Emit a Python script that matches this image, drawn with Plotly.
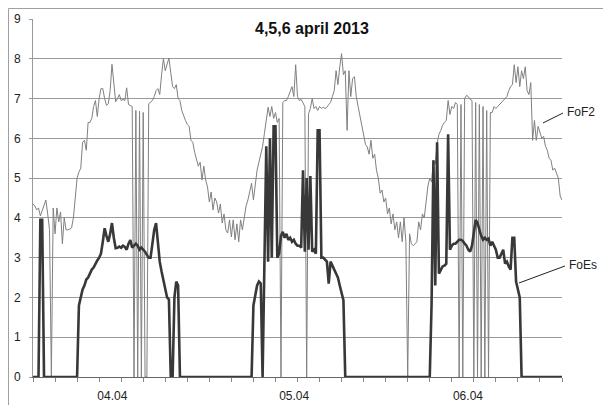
import plotly.graph_objects as go

# Time axis: hours since 00:00 on 04.04.2013, 15-minute sampling (0 .. 72 h)
# FoF2 values (MHz), one row per hour (4 samples each)
fof2 = [
    4.35, 4.3, 4.2, 4.25,     # h0
    4.05, 4.2, 4.3, 4.45,     # h1
    4.1, 3.7, 0, 4.25,        # h2
    3.6, 4.25, 3.9, 4.15,     # h3
    3.35, 4.0, 3.7, 3.7,      # h4
    3.72, 3.75, 4.0, 4.6,     # h5
    5.0, 5.15, 5.25, 5.9,     # h6
    5.95, 5.7, 6.4, 6.4,      # h7
    6.5, 6.8, 6.95, 6.55,     # h8
    7.0, 7.25, 7.25, 7.0,     # h9
    6.83, 6.87, 7.2, 7.86,    # h10
    7.4, 6.92, 7.0, 7.1,      # h11
    6.95, 6.98, 6.95, 7.27,   # h12
    6.85, 6.82, 6.8, 0,       # h13
    6.7, 0, 6.68, 0,          # h14
    6.65, 0, 0, 6.87,         # h15
    6.9, 6.95, 7.05, 7.2,     # h16
    7.25, 7.1, 7.6, 8.0,      # h17
    7.7, 7.9, 8.02, 7.65,     # h18
    7.3, 7.25, 7.35, 7.0,     # h19
    6.95, 6.7, 6.55, 6.45,    # h20
    6.35, 6.3, 5.95, 5.9,     # h21
    5.65, 5.45, 5.3, 5.4,     # h22
    4.95, 5.3, 4.95, 4.78,    # h23
    4.4, 4.65, 4.2, 4.5,      # h24
    4.4, 4.12, 4.35, 3.87,    # h25
    4.1, 3.7, 3.62, 3.95,     # h26
    3.52, 3.95, 3.45, 3.85,   # h27
    3.4, 3.95, 3.7, 4.0,      # h28
    4.3, 4.45, 4.7, 4.87,     # h29
    4.45, 4.9, 5.2, 5.4,      # h30
    5.6, 5.8, 6.13, 6.5,      # h31
    6.78, 6.55, 6.8, 6.5,     # h32
    6.65, 6.4, 6.5, 0,        # h33
    6.9, 6.95, 6.95, 7.05,    # h34
    7.17, 7.3, 7.05, 7.85,    # h35
    7.05, 6.95, 6.98, 6.9,    # h36
    6.8, 0, 6.62, 6.75,       # h37
    7.0, 6.75, 6.8, 6.7,      # h38
    6.8, 6.75, 6.78, 6.75,    # h39
    6.78, 6.85, 6.9, 7.05,    # h40
    7.2, 7.7, 7.35, 7.8,      # h41
    8.13, 7.6, 7.7, 6.2,      # h42
    7.7, 7.05, 7.5, 7.55,     # h43
    7.05, 6.8, 6.55, 6.3,     # h44
    6.03, 5.85, 5.78, 5.6,    # h45
    5.95, 5.5, 5.6, 5.2,      # h46
    5.0, 4.62, 4.7, 4.4,      # h47
    4.5, 4.1, 4.25, 3.85,     # h48
    4.1, 3.7, 3.9, 3.5,       # h49
    3.9, 3.4, 4.0, 3.4,       # h50
    0, 3.6, 3.35, 3.3,        # h51
    3.35, 3.4, 3.9, 3.7,      # h52
    4.1, 4.0, 4.4, 4.8,       # h53
    5.0, 4.9, 5.45, 5.35,     # h54
    5.87, 6.1, 6.2, 6.33,     # h55
    6.4, 6.45, 6.95, 6.6,     # h56
    6.8, 6.75, 6.9, 6.85,     # h57
    0, 6.85, 0, 7.0,          # h58
    7.08, 7.05, 6.98, 6.95,   # h59
    0, 6.9, 0, 6.85,          # h60
    0, 6.8, 0, 6.7,           # h61
    0, 6.65, 6.65, 6.8,       # h62
    6.75, 6.8, 6.85, 6.9,     # h63
    6.95, 7.0, 7.05, 7.2,     # h64
    7.3, 7.35, 7.85, 7.4,     # h65
    7.8, 7.3, 7.7, 7.5,       # h66
    7.8, 7.2, 7.1, 7.4,       # h67
    5.95, 6.45, 5.95, 6.3,    # h68
    6.12, 6.0, 6.05, 5.8,     # h69
    5.7, 5.5, 5.45, 5.2,      # h70
    5.25, 5.1, 5.0, 4.55,     # h71
    4.45,                     # h72
]

# FoEs values (MHz), same sampling
foes = [
    0, 0, 0, 0,               # h0
    3.95, 3.95, 0, 0,         # h1
    0, 0, 0, 0,               # h2
    0, 0, 0, 0,               # h3
    0, 0, 0, 0,               # h4
    0, 0, 0, 0,               # h5
    0, 1.8, 2.05, 2.2,        # h6
    2.3, 2.45, 2.5, 2.6,      # h7
    2.7, 2.75, 2.85, 2.93,    # h8
    3.0, 3.1, 3.4, 3.74,      # h9
    3.55, 3.4, 3.6, 3.87,     # h10
    3.5, 3.24, 3.25, 3.28,    # h11
    3.25, 3.3, 3.27, 3.2,     # h12
    3.35, 3.44, 3.25, 3.3,    # h13
    3.35, 3.3, 3.2, 3.25,     # h14
    3.2, 3.15, 3.07, 3.0,     # h15
    3.0, 3.4, 3.7, 3.87,      # h16
    3.4, 2.9, 2.65, 2.4,      # h17
    2.25, 2.0, 1.95, 0,       # h18
    0, 2.0, 2.4, 2.3,         # h19
    0, 0, 0, 0,               # h20
    0, 0, 0, 0,               # h21
    0, 0, 0, 0,               # h22
    0, 0, 0, 0,               # h23
    0, 0, 0, 0,               # h24
    0, 0, 0, 0,               # h25
    0, 0, 0, 0,               # h26
    0, 0, 0, 0,               # h27
    0, 0, 0, 0,               # h28
    0, 0, 0, 0,               # h29
    1.8, 2.05, 2.3, 2.4,      # h30
    2.35, 0, 2.7, 5.8,        # h31
    2.9, 6.0, 3.0, 6.3,       # h32
    6.3, 3.0, 3.1, 3.55,      # h33
    3.65, 3.5, 3.6, 3.45,     # h34
    3.5, 3.4, 3.45, 3.35,     # h35
    3.3, 3.3, 3.25, 5.2,      # h36
    3.15, 5.0, 3.2, 5.05,     # h37
    3.15, 3.2, 3.1, 6.2,      # h38
    6.2, 3.0, 3.0, 2.95,      # h39
    2.9, 2.35, 2.9, 2.8,      # h40
    2.7, 2.6, 2.5, 2.3,       # h41
    2.1, 1.93, 0, 0,          # h42
    0, 0, 0, 0,               # h43
    0, 0, 0, 0,               # h44
    0, 0, 0, 0,               # h45
    0, 0, 0, 0,               # h46
    0, 0, 0, 0,               # h47
    0, 0, 0, 0,               # h48
    0, 0, 0, 0,               # h49
    0, 0, 0, 0,               # h50
    0, 0, 0, 0,               # h51
    0, 0, 0, 0,               # h52
    0, 0, 0, 0,               # h53
    0, 1.85, 5.45, 2.3,       # h54
    5.9, 2.6, 2.7, 2.78,      # h55
    2.8, 2.85, 6.1, 3.2,      # h56
    3.3, 3.35, 3.35, 3.4,     # h57
    3.45, 3.45, 3.42, 3.35,   # h58
    3.3, 3.2, 3.15, 3.3,      # h59
    3.7, 3.95, 3.87, 3.7,     # h60
    3.55, 3.45, 3.5, 3.45,    # h61
    3.48, 3.3, 3.4, 3.3,      # h62
    3.2, 3.0, 3.0, 3.1,       # h63
    3.2, 2.85, 2.9, 2.78,     # h64
    2.7, 3.5, 3.5, 2.4,       # h65
    2.2, 2.0, 0, 0,           # h66
    0, 0, 0, 0,               # h67
    0, 0, 0, 0,               # h68
    0, 0, 0, 0,               # h69
    0, 0, 0, 0,               # h70
    0, 0, 0, 0,               # h71
    0,                        # h72
]

hours = [i * 0.25 for i in range(len(fof2))]

# Day labels on the x axis (placed near midday of each day, as in the source)
day_label_pos = [10.8, 35.55, 59.2]
day_labels = ["04.04", "05.04", "06.04"]

title_text = "4,5,6 april 2013"
series_names = ["FoF2", "FoEs"]

FONT = "Liberation Sans, Arial, sans-serif"

fig = go.Figure()
fig.add_trace(go.Scatter(x=hours, y=fof2, mode="lines", name=series_names[0],
                         line=dict(color="#808080", width=1)))
fig.add_trace(go.Scatter(x=hours, y=foes, mode="lines", name=series_names[1],
                         line=dict(color="#383838", width=2.6)))

# the page body adds an 8px offset, so the figure is 603x397
fig.update_layout(
    width=603, height=397,
    margin=dict(l=25, r=49, t=11, b=28, pad=0, autoexpand=False),
    paper_bgcolor="white", plot_bgcolor="white",
    showlegend=False,
    font=dict(family=FONT, size=12, color="#222"),
    xaxis=dict(
        range=[0, 72], showgrid=False, zeroline=False, automargin=False,
        showline=True, linecolor="#666", linewidth=1,
        tickmode="array", tickvals=day_label_pos, ticktext=day_labels,
        ticks="", ticklabelstandoff=8,
        tickfont=dict(family=FONT, size=12, color="#222"),
        minor=dict(tickmode="linear", tick0=0, dtick=3, ticks="outside",
                   ticklen=4, tickcolor="#888", tickwidth=1, showgrid=False),
    ),
    yaxis=dict(
        range=[0, 9], tick0=0, dtick=1, showgrid=True, automargin=False,
        gridcolor="#9a9a9a", gridwidth=1, zeroline=False,
        showline=True, linecolor="#9a9a9a", linewidth=1,
        ticks="outside", ticklen=3, tickcolor="#9a9a9a",
        tickfont=dict(family=FONT, size=12, color="#222"),
        ticklabelstandoff=6,
    ),
)

# outer chart-area frame (extends beyond the visible window, as in the source)
fig.add_shape(type="rect", xref="paper", yref="paper",
              x0=-0.0463, y0=-0.4, x1=1.4, y1=1.0293,
              line=dict(color="#a0a0a0", width=1), layer="below")

# title inside the plot area
fig.add_annotation(text="<b>" + title_text + "</b>", xref="paper", yref="paper",
                   x=0.527, y=0.974, xanchor="center", yanchor="middle",
                   showarrow=False, font=dict(family=FONT, size=16, color="#111"))

# series labels with leader lines
fig.add_annotation(text=series_names[0], xref="paper", yref="paper",
                   x=1.006, y=0.740, xanchor="left", yanchor="middle",
                   showarrow=False, font=dict(family=FONT, size=12, color="#222"))
fig.add_annotation(text=series_names[1], xref="paper", yref="paper",
                   x=1.010, y=0.313, xanchor="left", yanchor="middle",
                   showarrow=False, font=dict(family=FONT, size=12, color="#222"))
fig.add_shape(type="line", xref="paper", yref="paper",
              x0=0.964, y0=0.7095, x1=1.0019, y1=0.7374,
              line=dict(color="#222", width=1))
fig.add_shape(type="line", xref="paper", yref="paper",
              x0=0.9187, y0=0.2626, x1=1.0057, y1=0.3101,
              line=dict(color="#222", width=1))

fig.write_html("out.html")
